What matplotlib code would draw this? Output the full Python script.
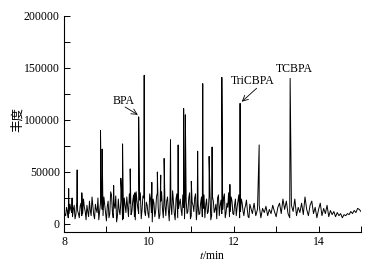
import numpy as np
import matplotlib
matplotlib.use("Agg")
import matplotlib.pyplot as plt

# baseline signal (thousands of counts), sampled every 0.04 min from 8.00 to 15.00
base_vals = [
    15, 8, 12, 10, 14, 7, 18, 9, 13, 6,
    20, 10, 16, 4, 12, 22, 8, 18, 5, 14,
    25, 12, 30, 8, 18, 3, 22, 10, 28, 6,
    15, 2, 24, 9, 30, 5, 18, 26, 7, 20,
    12, 28, 4, 22, 10, 30, 14, 25, 8, 18,
    6, 24, 2, 20, 12, 30, 5, 22, 15, 28,
    8, 26, 3, 18, 32, 10, 24, 6, 20, 14,
    28, 5, 22, 12, 30, 8, 18, 25, 4, 20,
    10, 26, 15, 6, 24, 12, 30, 8, 22, 14,
    5, 28, 18, 10, 25, 6, 20, 30, 12, 22,
    9, 24, 16, 28, 12, 20, 8, 18, 14, 6,
    16, 10, 20, 8, 14, 18, 6, 15, 11, 17,
    8, 14, 10, 18, 12, 7, 16, 20, 10, 24,
    14, 22, 10, 6, 18, 12, 24, 8, 16, 11,
    20, 9, 26, 14, 8, 18, 22, 10, 16, 6,
    14, 20, 8, 15, 10, 18, 7, 13, 9, 12,
    7, 11, 8, 10, 6, 9, 8, 10, 9, 12,
    10, 13, 11, 15, 14, 12,
]
base_t = np.linspace(8.0, 15.0, len(base_vals))

# extra baseline samples between the above ones, 8.02 to 12.38 min
mid_vals = [
    9, 16, 6, 19, 11, 14, 5, 21, 10, 17,
    8, 24, 12, 18, 7, 13, 26, 9, 19, 11,
    4, 20, 14, 26, 11, 17, 6, 31, 12, 20,
    27, 8, 13, 22, 4, 25, 11, 16, 29, 9,
    22, 7, 31, 15, 23, 5, 27, 12, 21, 10,
    29, 11, 24, 7, 26, 16, 9, 31, 6, 18,
    22, 13, 27, 9, 21, 4, 29, 15, 24, 8,
    16, 29, 10, 25, 5, 21, 12, 29, 14, 9,
    20, 7, 28, 18, 10, 27, 4, 26, 11, 19,
    25, 8, 23, 14, 29, 11, 16, 7, 26, 10,
    18, 8, 22, 6, 24, 12, 15, 23, 7, 19,
]
mid_t = np.linspace(8.02, 12.38, len(mid_vals))

# peak apexes: retention time (min) and abundance (thousands)
peak_t = [8.11, 8.19, 8.31, 8.42, 8.86, 8.90, 9.17, 9.34, 9.38, 9.56, 9.67,
          9.76, 9.89, 10.07, 10.20, 10.28, 10.36, 10.51, 10.69, 10.82, 10.86,
          11.00, 11.15, 11.27, 11.42, 11.49, 11.72, 11.91, 12.15, 12.60, 13.33]
peak_h = [34, 25, 52, 30, 90, 72, 37, 44, 77, 53, 30,
          103, 143, 40, 50, 47, 63, 81, 76, 111, 105,
          41, 70, 135, 65, 74, 141, 38, 116, 76, 140]

# labelled compounds
labels = ["BPA", "TriCBPA", "TCBPA"]

t_all = np.concatenate([base_t, mid_t, peak_t])
v_all = np.concatenate([base_vals, mid_vals, peak_h]) * 1000.0
order = np.argsort(t_all, kind="stable")
t_all = t_all[order]
v_all = v_all[order]

plt.rcParams['font.family'] = ['Liberation Serif', 'Noto Sans CJK SC']
plt.rcParams['mathtext.fontset'] = 'stix'

fig = plt.figure(figsize=(3.84, 2.66), dpi=100)
ax = fig.add_axes([64/384, 1-232/266, (361-64)/384, (232-16)/266])
ax.plot(t_all, v_all, color='black', lw=0.7)

ax.set_xlim(8, 15)
ax.set_ylim(-7700, 200000)
ax.set_xticks([8, 10, 12, 14])
ax.set_xticks([9, 11, 13, 15], minor=True)
ax.set_yticks([0, 50000, 100000, 150000, 200000])
ax.set_yticks([25000, 75000, 125000, 175000], minor=True)
ax.tick_params(which='both', direction='in', labelsize=8.5, width=0.7, pad=3)
ax.tick_params(which='major', length=4)
ax.tick_params(which='minor', length=4)
for s in ['top', 'right']:
    ax.spines[s].set_visible(False)
for s in ['left', 'bottom']:
    ax.spines[s].set_linewidth(0.8)

ax.set_xlabel(r'$t$/min', fontsize=8.5, labelpad=1)
fig.text(17/384, 1-120/266, '丰度', rotation=90, ha='center', va='center',
         fontsize=9, family=['Noto Sans CJK SC'])

arrow = dict(arrowstyle='->', lw=0.6, color='black', shrinkA=0, shrinkB=0)
ax.text(9.40, 118500, labels[0], fontsize=8.5, ha='center', va='center')
ax.annotate('', xy=(9.74, 105000), xytext=(9.44, 112500), arrowprops=arrow)
ax.text(12.44, 137500, labels[1], fontsize=8.5, ha='center', va='center')
ax.annotate('', xy=(12.19, 117600), xytext=(12.54, 130500), arrowprops=arrow)
ax.text(13.42, 149500, labels[2], fontsize=8.5, ha='center', va='center')

fig.savefig('out.png', dpi=100)
